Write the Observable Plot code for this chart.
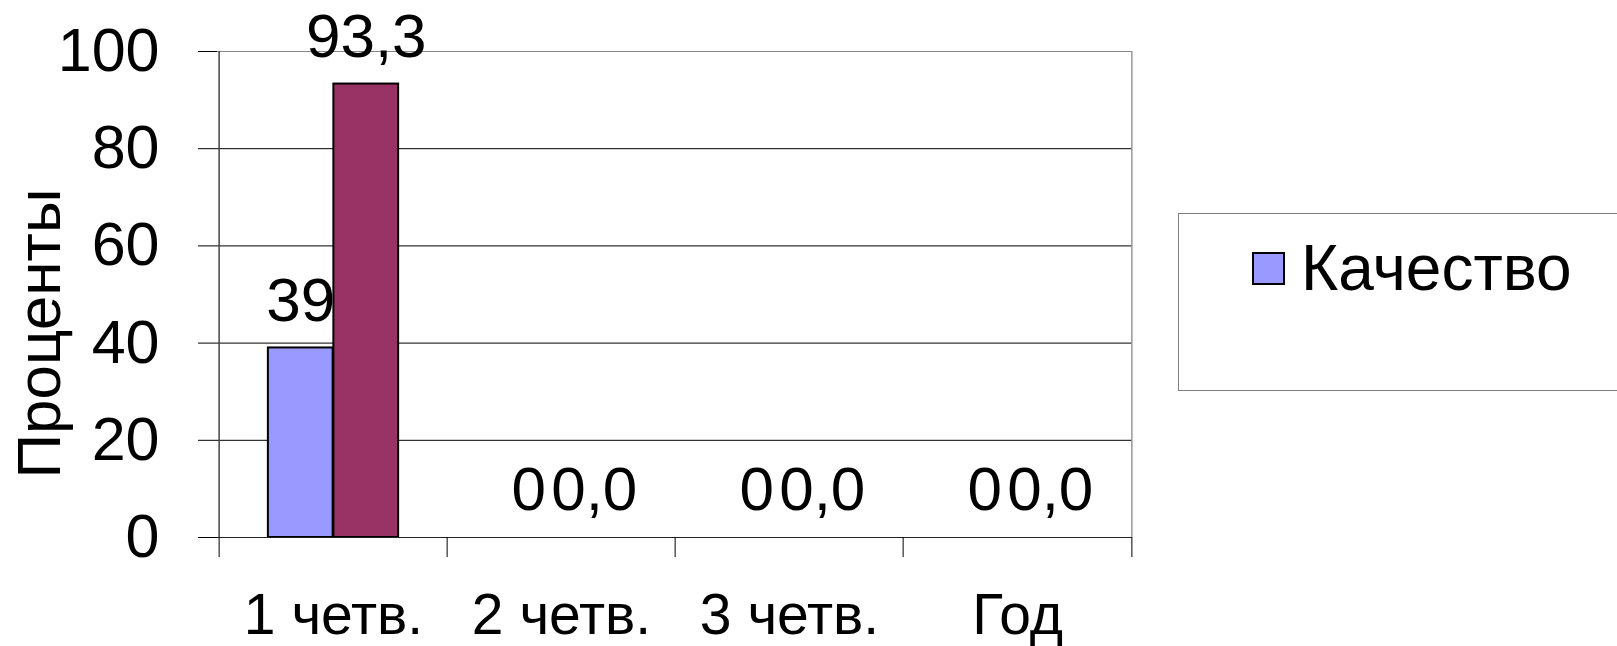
<!DOCTYPE html>
<html>
<head>
<meta charset="utf-8">
<script src="https://cdn.jsdelivr.net/npm/d3@7"></script>
<script src="https://cdn.jsdelivr.net/npm/@observablehq/plot@0.6"></script>
<style>
  html, body { margin: 0; padding: 0; background: #fff; overflow: hidden; }
  #wrap { position: relative; width: 1617px; height: 646px; font-family: "Liberation Sans", Arial, sans-serif; color: #000; }
  #chart svg { display: block; }
  #legend { position: absolute; left: 1178px; top: 213px; width: 480px; height: 178px; box-sizing: border-box;
            border: 1px solid #808080; background: #fff; }
  .item { position: absolute; left: 73px; top: 22px; display: flex; align-items: center; white-space: nowrap; }
  .sw { width: 33px; height: 33px; box-sizing: border-box; border: 2px solid #000; margin-right: 16px; }
  .lab { font-size: 64px; line-height: 1; }
</style>
</head>
<body>
<div id="wrap">
  <div id="chart"></div>
  <div id="legend"></div>
</div>
<script>
// ---- data ----
const categories = ["1 четв.", "2 четв.", "3 четв.", "Год"];
const seriesNames = ["Качество", "Успеваемость"];
const qualityValues = [39, 0, 0, 0];
const secondValues = [93.3, 0, 0, 0];
const yTicks = [0, 20, 40, 60, 80, 100];
const seriesColors = ["#9999FF", "#993366"];
const legendSeries = ["Качество"];

// ---- layout ----
const W = 1617, H = 646;
const ML = 217, MR = 485, MT = 51, MB = 109;
const step = (W - ML - MR) / categories.length;
const barW = 65.5;
const FONT = "'Liberation Sans', Arial, sans-serif";

const rowsA = categories.map((c, i) => ({category: c, value: qualityValues[i]}));
const rowsB = categories.map((c, i) => ({category: c, value: secondValues[i]}));
const fmtA = d => d3.format(".0f")(d.value);
const fmtB = d => d3.format(".1f")(d.value).replace(".", ",");

const chart = Plot.plot({
  width: W, height: H,
  marginLeft: ML, marginRight: MR, marginTop: MT, marginBottom: MB,
  style: {fontFamily: FONT, fontSize: "60px", color: "#000", background: "transparent"},
  x: {type: "band", domain: categories, padding: 0, axis: null},
  y: {domain: [0, 100], axis: null},
  marks: [
    Plot.gridY(yTicks.filter(t => t > 0 && t < 100), {stroke: "#000", strokeOpacity: 1}),
    Plot.ruleY([100], {stroke: "#888"}),
    Plot.ruleX([categories[categories.length - 1]], {dx: step / 2, stroke: "#999", strokeWidth: 1.5}),
    Plot.barY(rowsA, {x: "category", y: "value", fill: seriesColors[0], stroke: "#000", strokeWidth: 2,
      insetLeft: step / 2 - barW, insetRight: step / 2}),
    Plot.barY(rowsB, {x: "category", y: "value", fill: seriesColors[1], stroke: "#000", strokeWidth: 2,
      insetLeft: step / 2, insetRight: step / 2 - barW}),
    Plot.ruleY([0], {stroke: "#222"}),
    Plot.ruleX([categories[0]], {dx: -step / 2, stroke: "#444", strokeWidth: 1.5}),
    Plot.axisY({ticks: yTicks, tickSize: 19, tickPadding: 39, label: null, fontSize: 61}),
    Plot.axisX({ticks: categories, tickSize: 20, tickFormat: () => "", dx: -step / 2, label: null}),
    Plot.axisX({ticks: [categories[categories.length - 1]], tickSize: 20, tickFormat: () => "", dx: step / 2, label: null}),
    Plot.axisX({ticks: categories, tickSize: 0, tickPadding: 56, fontSize: 57, label: null}),
    Plot.text(rowsA, {x: "category", y: "value", text: fmtA, dx: -barW / 2, dy: -47, fontSize: 62}),
    Plot.text(rowsB, {x: "category", y: "value", text: fmtB, dx: barW / 2, dy: -47, fontSize: 62}),
    Plot.text(["Проценты"], {frameAnchor: "left", textAnchor: "middle", rotate: -90, dx: -177, dy: 39, fontSize: 62})
  ]
});
document.getElementById("chart").appendChild(chart);

// legend
const legend = document.getElementById("legend");
legendSeries.forEach(name => {
  const i = seriesNames.indexOf(name);
  const item = document.createElement("div");
  item.className = "item";
  const sw = document.createElement("div");
  sw.className = "sw";
  sw.style.background = seriesColors[i];
  const lab = document.createElement("span");
  lab.className = "lab";
  lab.textContent = name;
  item.appendChild(sw);
  item.appendChild(lab);
  legend.appendChild(item);
});
</script>
</body>
</html>
